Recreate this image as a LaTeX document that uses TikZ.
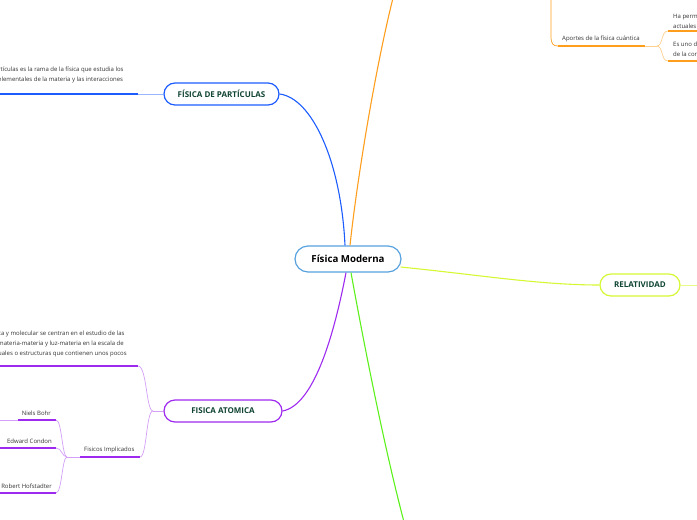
\documentclass[tikz,border=0pt]{standalone}
\usepackage{fontspec}
\setmainfont{Open Sans}
\usetikzlibrary{positioning, calc}

\definecolor{coreblue}{RGB}{88,162,222}
\definecolor{partblue}{RGB}{28,92,255}
\definecolor{quantorange}{RGB}{255,158,28}
\definecolor{relgreen}{RGB}{212,248,52}
\definecolor{atompurple}{RGB}{158,42,240}
\definecolor{freshgreen}{RGB}{92,240,28}
\definecolor{topictext}{RGB}{16,68,52}
\definecolor{notegray}{RGB}{50,50,50}

\tikzset{
  corebox/.style={
    draw=coreblue, rounded corners=13pt, line width=1.2pt, fill=white,
    minimum width=106pt, minimum height=26pt,
    font=\bfseries\fontsize{9.7}{11}\selectfont
  },
  topicbox/.style={
    draw, rounded corners=11pt, line width=1.2pt, fill=white,
    minimum height=22pt, text=topictext, inner xsep=2pt,
    font=\bfseries\fontsize{8}{9}\selectfont
  },
  notetext/.style={
    font=\fontsize{6}{10}\selectfont, text=notegray, align=left,
    inner sep=0pt
  },
  branchline/.style={line width=1.1pt},
  linkline/.style={line width=0.7pt},
  underline/.style={line width=1.8pt},
}

\begin{document}
\begin{tikzpicture}[x=1pt,y=-1pt]
  \useasboundingbox (0,0) rectangle (697,520);
  \clip (0,0) rectangle (697,520);

  % === Centre and main topics ===
  \node[corebox] (core) at (348,259) {Física Moderna};
  \node[topicbox, draw=partblue, minimum width=115pt] (particulas) at (221.5,94) {FÍSICA DE PARTÍCULAS};
  \node[topicbox, draw=relgreen, minimum width=80pt] (relatividad) at (640,285) {RELATIVIDAD};
  \node[topicbox, draw=atompurple, minimum width=118pt] (atomica) at (223,411) {FISICA ATOMICA};

  % free ends leaving the picture
  \coordinate (cuantica) at (393,-2);
  \coordinate (otra) at (404,522);

  % === Main branches ===
  \draw[branchline, partblue] (particulas.east) .. controls +(32,4) and +(-4,-85) .. ($(core.north)+(-3,0)$);
  \draw[branchline, quantorange] ($(core.north)+(2,0)$) .. controls (357,180) and (375,70) .. (cuantica);
  \draw[branchline, relgreen] ($(core.east)+(-1,8)$) .. controls (480,275) and (540,285) .. (relatividad.west);
  \draw[branchline, atompurple] ($(core.south)+(-2,0)$) .. controls (335,330) and (315,405) .. (atomica.east);
  \draw[branchline, freshgreen] ($(core.south)+(3,0)$) .. controls (365,350) and (385,450) .. (otra);

  % === Partículas ===
  \coordinate (partend) at (138,94);
  \draw[linkline, partblue!45] (particulas.west) -- (partend);
  \draw[underline, partblue] (partend) -- (-2,94);
  \node[notetext, anchor=south west] (partnote) at (-2,83.5)
    {rtículas es la rama de la física que estudia los\\elementales de la materia y las interacciones};

  % === Relatividad ===
  \coordinate (relend) at (699,285);
  \draw[linkline, relgreen!60] (relatividad.east) -- (relend);

  % === Física cuántica (top right) ===
  \coordinate (quantin) at (551,-2);
  \coordinate (aportesA) at (558,46);
  \coordinate (aportesB) at (645,46);
  \coordinate (aportesfork) at (657,46);
  \coordinate (permA) at (668,31);
  \coordinate (unoA) at (668,61);
  \node[notetext, anchor=south west] (aportes) at (562,42) {Aportes de la física cuántica};
  \draw[linkline, quantorange] (quantin) -- (551,36) .. controls (551,44) and (553,46) .. (aportesA);
  \draw[underline, quantorange] (aportesA) -- (aportesB);
  \draw[linkline, quantorange!50] (aportesB) -- (aportesfork);
  \draw[linkline, quantorange!50] (aportesfork) .. controls (663,46) and (661,31) .. (permA);
  \draw[linkline, quantorange!50] (aportesfork) .. controls (663,46) and (661,61) .. (unoA);
  \draw[underline, quantorange] (permA) -- (699,31);
  \draw[underline, quantorange] (unoA) -- (699,61);
  \node[notetext, anchor=south west] (permite) at (673,29) {Ha perm\\actuales};
  \node[notetext, anchor=south west] (esuno) at (673,57) {Es uno d\\de la cor};

  % === Física atómica ===
  \coordinate (atomfork) at (153,411);
  \coordinate (molecA) at (138,366);
  \coordinate (fisicosA) at (80,457);
  \coordinate (fisicosB) at (140,457);
  \draw[linkline, atompurple!45] (atomica.west) -- (atomfork);
  \draw[linkline, atompurple!45] (atomfork) .. controls (146,411) and (147,366) .. (molecA);
  \draw[linkline, atompurple!45] (atomfork) .. controls (146,411) and (147,457) .. (fisicosB);
  \draw[underline, atompurple] (molecA) -- (-2,366);
  \node[notetext, anchor=south west] (molecnote) at (-2,357.5)
    {ca y molecular se centran en el estudio de las\\materia-materia y luz-materia en la escala de\\uales o estructuras que contienen unos pocos};
  \draw[underline, atompurple] (fisicosA) -- (fisicosB);
  \node[notetext, anchor=south west] (fisicos) at (84,453) {Fisicos Implicados};

  % physicists
  \coordinate (physfork) at (67,457);
  \coordinate (bohrA) at (56,420);
  \coordinate (condonA) at (56,448);
  \coordinate (hofA) at (56,493);
  \draw[linkline, atompurple!45] (fisicosA) -- (physfork);
  \draw[linkline, atompurple!45] (physfork) .. controls (62,457) and (62,420) .. (bohrA);
  \draw[linkline, atompurple!45] (physfork) .. controls (62,457) and (62,448) .. (condonA);
  \draw[linkline, atompurple!45] (physfork) .. controls (62,457) and (62,493) .. (hofA);
  \draw[underline, atompurple] (bohrA) -- (18,420);
  \draw[linkline, atompurple!45] (18,420) -- (-2,420);
  \draw[underline, atompurple] (condonA) -- (-2,448);
  \draw[underline, atompurple] (hofA) -- (-2,493);
  \node[notetext, anchor=south east] (bohr) at (51,416) {Niels Bohr};
  \node[notetext, anchor=south east] (condon) at (52,444) {Edward Condon};
  \node[notetext, anchor=south east] (hofstadter) at (52,489) {Robert Hofstadter};
\end{tikzpicture}
\end{document}
